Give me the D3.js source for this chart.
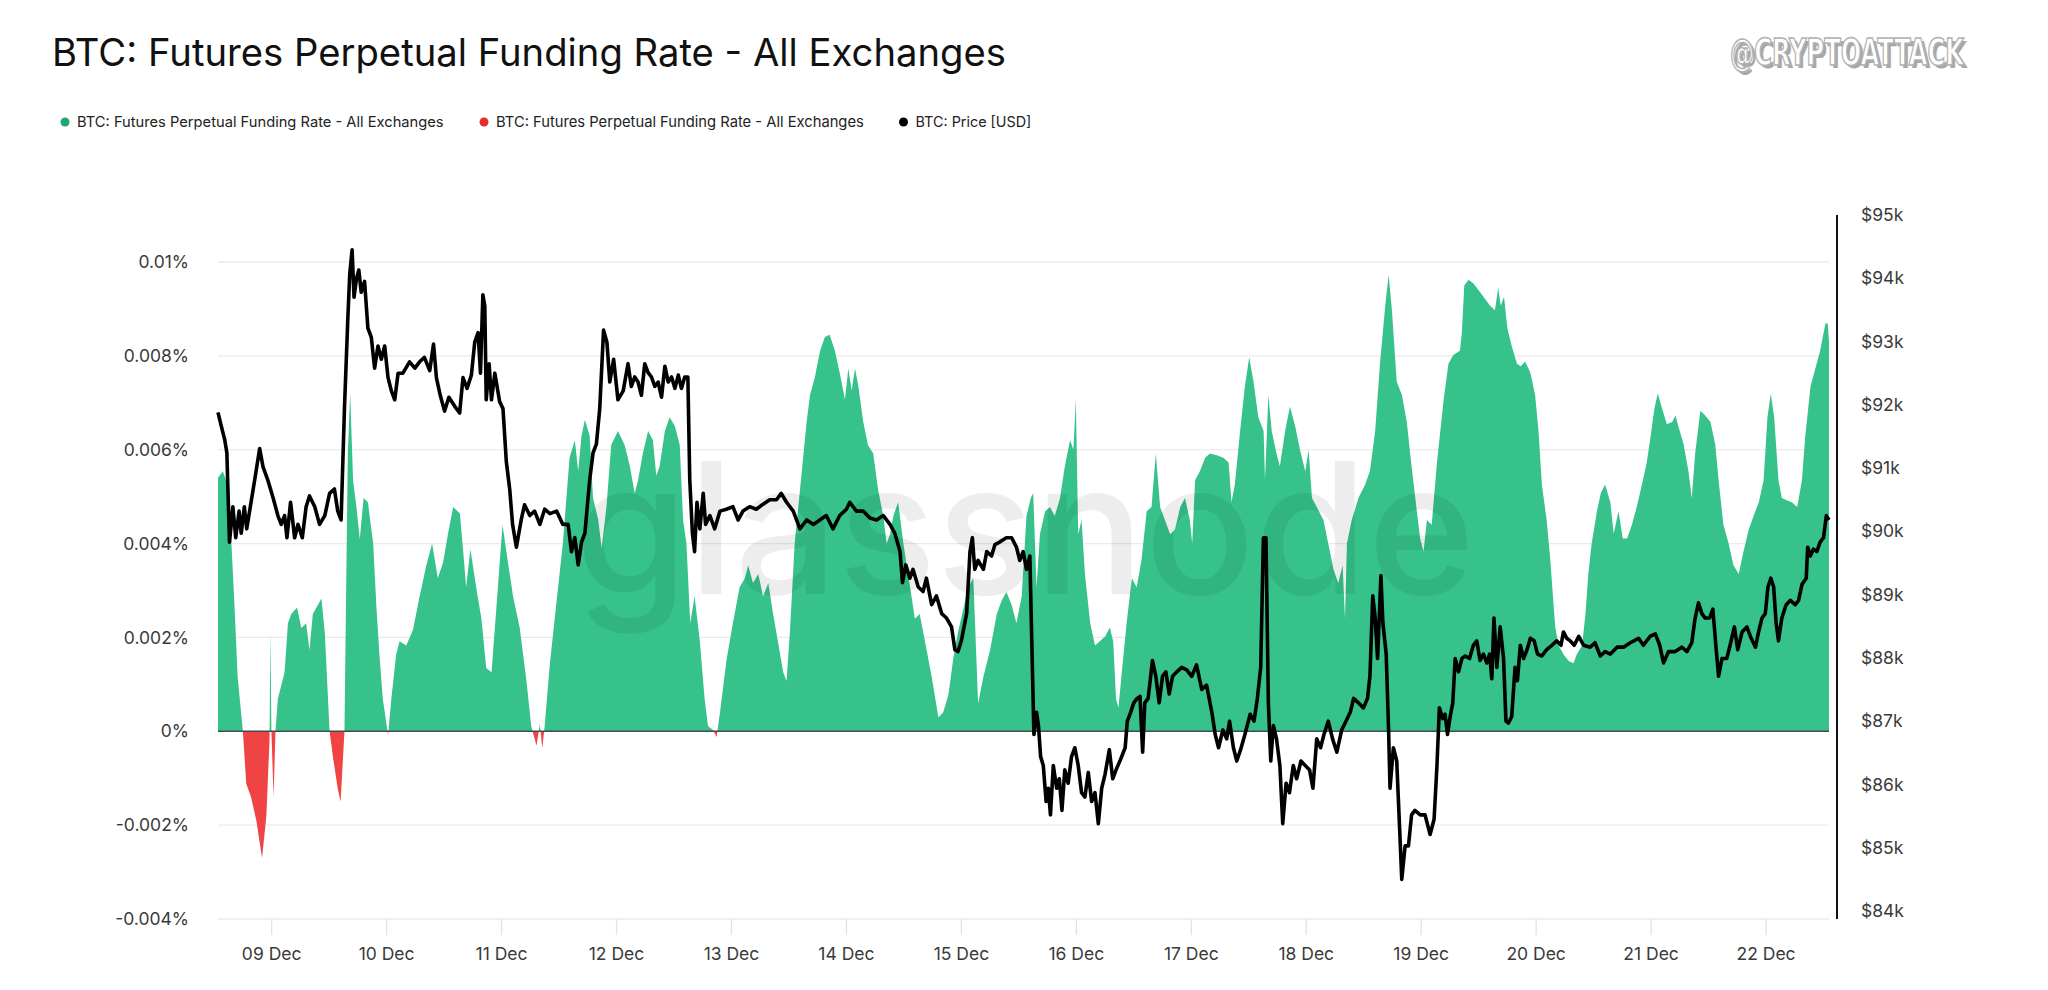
<!DOCTYPE html>
<html>
<head>
<meta charset="utf-8">
<script src="https://cdnjs.cloudflare.com/ajax/libs/d3/7.8.5/d3.min.js"></script>
<style>
    body { margin: 0; background: #fff; }
    svg { display: block; font-family: Inter, "Noto Sans", sans-serif; }
</style>
</head>
<body>
<svg id="chart" width="2048" height="990"></svg>
<script>
/*
*   Funding rate (green/red area, left axis) and BTC price (black line, right axis).
*   Times are hours from 09 Dec 2025 00:00 UTC.
*/
var fundingHours = [-11.1, -10.1, -9.4, -8.3, -7.7, -7.0, -5.9, -5.2, -4.2, -3.1, -1.9, -1.0, -0.35, -0.15, 0.05, 0.5, 0.9, 1.4, 2.1, 2.8,
    3.5, 4.2, 5.4, 6.3, 7.3, 8.0, 8.7, 10.5, 11.2, 12.2, 12.9, 13.9, 14.5, 15.3, 16.0, 16.5, 17.1, 17.8, 18.5, 19.3,
    20.2, 21.3, 22.0, 22.6, 23.3, 24.4, 25.1, 26.1, 26.8, 28.2, 29.6, 31.0, 32.4, 33.6, 34.8, 35.9, 36.9, 38.0, 39.4, 40.1,
    40.7, 41.6, 42.8, 43.9, 44.9, 46.0, 47.0, 48.3, 49.1, 50.5, 51.9, 53.3, 54.3, 55.4, 56.1, 56.6, 57.1, 58.2, 59.6, 60.9,
    62.3, 63.4, 64.1, 64.8, 65.5, 66.5, 67.2, 68.3, 69.0, 70.0, 71.0, 72.4, 73.8, 74.9, 75.9, 76.6, 77.6, 78.7, 79.7, 80.4,
    81.1, 82.2, 83.2, 84.3, 85.3, 86.0, 86.7, 87.5, 88.4, 89.5, 90.5, 91.2, 92.3, 93.0, 93.7, 95.1, 96.4, 97.8, 98.9, 99.6,
    100.6, 101.7, 102.7, 103.8, 104.8, 105.8, 106.9, 107.6, 108.3, 109.3, 110.7, 111.8, 112.5, 113.5, 114.6, 115.6, 116.6, 117.7, 118.7, 119.8,
    120.5, 121.2, 121.9, 122.6, 123.6, 124.6, 125.7, 126.7, 127.8, 128.5, 129.2, 129.9, 130.9, 132.0, 133.4, 134.4, 135.4, 136.5, 137.9, 139.3,
    140.3, 141.4, 142.4, 143.4, 144.5, 145.5, 146.6, 147.6, 148.7, 150.1, 151.5, 152.5, 153.5, 154.6, 155.6, 156.7, 157.7, 158.6, 159.1, 159.8,
    160.5, 161.6, 162.6, 163.6, 164.7, 165.7, 166.8, 167.5, 168.0, 168.5, 169.2, 169.9, 171.0, 172.0, 173.0, 174.1, 175.1, 175.8, 176.4, 176.9,
    177.6, 178.6, 179.7, 180.7, 181.7, 182.8, 183.8, 184.7, 185.6, 186.6, 187.7, 188.7, 189.8, 190.8, 191.8, 192.3, 192.9, 193.9, 195.0, 196.0,
    197.4, 198.8, 199.9, 200.5, 201.2, 202.3, 203.3, 204.2, 205.1, 206.1, 207.2, 207.5, 208.2, 208.9, 209.9, 210.6, 211.7, 212.7, 213.8, 214.8,
    215.9, 216.6, 217.3, 218.3, 219.7, 220.7, 221.8, 222.8, 223.7, 224.2, 224.6, 225.6, 227.0, 228.4, 229.4, 230.5, 231.5, 232.6, 233.3, 234.0,
    235.0, 236.1, 237.1, 238.1, 239.2, 239.9, 240.6, 241.3, 242.3, 243.4, 244.8, 245.8, 246.8, 248.2, 248.6, 249.1, 250.0, 251.0, 252.1, 253.1,
    254.5, 255.5, 256.2, 256.7, 257.4, 258.1, 259.0, 260.1, 260.9, 261.8, 262.9, 263.9, 264.6, 265.3, 266.3, 267.0, 268.1, 268.8, 269.8, 270.9,
    271.9, 272.6, 273.7, 274.4, 275.0, 275.7, 276.8, 277.6, 278.5, 279.6, 280.3, 281.3, 282.2, 283.1, 284.1, 285.1, 286.2, 287.2, 287.9, 288.8,
    289.5, 290.4, 291.4, 292.5, 293.2, 293.8, 294.9, 295.9, 296.6, 297.3, 298.4, 299.4, 300.5, 301.5, 302.2, 303.2, 304.3, 305.3, 306.4, 307.4,
    308.5, 309.5, 310.6, 311.6, 312.4, 313.1, 313.8, 314.7, 315.4, 316.5, 317.5, 318.6, 319.6, 320.3, 321.4, 322.4, 323.4, 324.5, 325.0, 325.25];

// funding rate in %
var fundingRate = [0.0054, 0.00554, 0.00535, 0.004, 0.00278, 0.00116, 0, -0.00112, -0.0014, -0.0019, -0.0027, -0.0018, -0.0002, 0.0021, 0, -0.0014, 0, 0.0007, 0.00097, 0.00126,
    0.0023, 0.0025, 0.00264, 0.0022, 0.0023, 0.00173, 0.0025, 0.00283, 0.0021, 0, -0.00055, -0.00122, -0.0015, 0, 0.0059, 0.0072, 0.00535, 0.00478, 0.0041, 0.00497,
    0.00488, 0.004, 0.0026, 0.00164, 0.0007, -0.00008, 0.0007, 0.00164, 0.00192, 0.00183, 0.00216, 0.00288, 0.00354, 0.004, 0.00326, 0.0036, 0.0042, 0.00478, 0.00464, 0.00383,
    0.00307, 0.00388, 0.00307, 0.0024, 0.00135, 0.00126, 0.0026, 0.0044, 0.00383, 0.00288, 0.0022, 0.00107, 0.00011, -0.00031, 0.00016, -0.00036, 0.00011, 0.00145, 0.00278, 0.004,
    0.00583, 0.0062, 0.00554, 0.0063, 0.00664, 0.0063, 0.00497, 0.0045, 0.0039, 0.00478, 0.0061, 0.0064, 0.0061, 0.00564, 0.00507, 0.00535, 0.00592, 0.0064, 0.0062, 0.00545,
    0.00564, 0.0064, 0.00669, 0.0065, 0.0061, 0.0045, 0.004, 0.0023, 0.00288, 0.00192, 0.00069, 0.00011, 0.00002, -0.00012, 0.0004, 0.00154, 0.0023, 0.00307, 0.00326, 0.00354,
    0.00316, 0.00335, 0.00288, 0.00316, 0.0025, 0.00192, 0.00126, 0.00107, 0.00211, 0.004, 0.00545, 0.0066, 0.00716, 0.00754, 0.00811, 0.0084, 0.00845, 0.00811, 0.00764, 0.00707,
    0.00773, 0.00726, 0.00773, 0.00735, 0.0066, 0.0061, 0.00592, 0.00516, 0.00459, 0.004, 0.0042, 0.00459, 0.00488, 0.004, 0.00307, 0.0024, 0.0025, 0.00192, 0.00116, 0.0003,
    0.0004, 0.00078, 0.00154, 0.00211, 0.0026, 0.00307, 0.00326, 0.00059, 0.00116, 0.00173, 0.0025, 0.00278, 0.00297, 0.00269, 0.0023, 0.00288, 0.00459, 0.00497, 0.00507, 0.00307,
    0.0042, 0.00469, 0.00478, 0.00459, 0.00497, 0.00564, 0.0062, 0.006, 0.00707, 0.0042, 0.0045, 0.00335, 0.0023, 0.00183, 0.00192, 0.00202, 0.00221, 0.00192, 0.00069, 0.0005,
    0.00126, 0.0023, 0.00326, 0.00307, 0.00364, 0.00469, 0.00478, 0.00592, 0.00478, 0.0045, 0.0042, 0.0043, 0.00478, 0.00497, 0.0045, 0.004, 0.00535, 0.00554, 0.00583, 0.00592,
    0.00588, 0.00583, 0.00573, 0.00488, 0.00526, 0.0064, 0.00735, 0.00797, 0.00745, 0.00669, 0.0064, 0.00535, 0.00716, 0.0064, 0.00592, 0.00564, 0.0064, 0.00692, 0.0065, 0.006,
    0.00554, 0.006, 0.00497, 0.00478, 0.0045, 0.004, 0.00345, 0.00316, 0.00354, 0.0024, 0.004, 0.0045, 0.00497, 0.00526, 0.00554, 0.0064, 0.00783, 0.00907, 0.00973, 0.00897,
    0.00745, 0.00716, 0.00659, 0.00564, 0.00469, 0.00411, 0.00383, 0.0045, 0.0044, 0.00573, 0.00707, 0.00783, 0.00802, 0.00811, 0.0085, 0.0095, 0.00962, 0.00954, 0.0094, 0.00926,
    0.00907, 0.00897, 0.00945, 0.00907, 0.00926, 0.00859, 0.00821, 0.00783, 0.00778, 0.00788, 0.00764, 0.00716, 0.0064, 0.00526, 0.0045, 0.00373, 0.00221, 0.00183, 0.00164, 0.0015,
    0.00145, 0.00164, 0.00183, 0.0025, 0.00335, 0.004, 0.00469, 0.00507, 0.00526, 0.00488, 0.00421, 0.00469, 0.00411, 0.00411, 0.0044, 0.00478, 0.00526, 0.00573, 0.00621, 0.00688,
    0.0072, 0.00688, 0.00654, 0.00659, 0.00673, 0.0065, 0.00611, 0.00554, 0.00497, 0.00592, 0.00683, 0.00673, 0.00659, 0.00611, 0.00535, 0.0044, 0.004, 0.00354, 0.00335, 0.00383,
    0.0043, 0.00459, 0.00488, 0.00535, 0.00669, 0.0072, 0.00669, 0.00535, 0.00497, 0.00492, 0.00488, 0.00478, 0.00535, 0.0063, 0.00735, 0.00773, 0.00811, 0.00869, 0.00869, 0.0083];

var priceHours = [-11.1, -10.4, -9.7, -9.25, -8.7, -8.0, -7.4, -6.7, -6.25, -5.6, -5.1, -4.2, -3.3, -2.4, -1.7, -0.7, 0.4, 1.4, 2.1, 2.8,
    3.3, 4.05, 4.9, 5.6, 6.5, 7.3, 8.0, 9.1, 10.1, 11.2, 12.2, 13.2, 13.9, 14.6, 15.3, 16.0, 16.4, 16.9, 17.3, 17.8,
    18.3, 18.8, 19.5, 20.2, 20.9, 21.6, 22.3, 23.0, 23.7, 24.4, 25.1, 25.8, 26.5, 27.5, 28.9, 30.0, 31.0, 32.0, 33.1, 33.9,
    34.5, 35.3, 36.2, 37.1, 38.3, 39.35, 40.05, 40.9, 41.8, 42.5, 43.2, 43.7, 44.2, 44.6, 44.9, 45.5, 46.0, 46.7, 47.7, 48.4,
    49.1, 49.8, 50.4, 51.2, 52.2, 52.9, 54.0, 55.0, 56.1, 57.1, 58.2, 59.6, 60.9, 62.0, 62.7, 63.4, 64.1, 64.8, 65.5, 66.5,
    67.2, 67.9, 68.6, 69.4, 70.1, 70.7, 71.5, 72.4, 73.5, 74.5, 75.2, 75.9, 76.6, 77.3, 78.0, 78.7, 79.4, 80.1, 80.8, 81.5,
    82.2, 82.9, 83.6, 84.3, 85.0, 85.65, 86.35, 87.0, 87.4, 87.95, 88.4, 88.9, 89.5, 90.2, 90.7, 91.6, 92.6, 93.7, 95.05, 96.4,
    97.5, 98.5, 99.9, 101.3, 102.7, 104.1, 105.5, 106.5, 107.6, 109.0, 110.4, 111.8, 113.2, 114.55, 115.9, 117.3, 118.7, 120.1, 120.8, 122.2,
    123.6, 125.0, 126.4, 127.8, 129.2, 130.2, 131.3, 131.8, 132.5, 133.35, 134.0, 135.1, 136.1, 136.8, 137.9, 138.9, 140.0, 141.0, 142.05, 142.75,
    143.4, 144.1, 145.2, 145.9, 146.4, 146.9, 147.6, 148.7, 149.4, 150.4, 151.1, 152.1, 153.5, 154.6, 155.6, 156.3, 157.0, 157.7, 158.4, 159.25,
    159.8, 160.2, 160.65, 161.2, 161.8, 162.25, 162.7, 163.3, 164.0, 164.55, 165.1, 165.7, 166.4, 167.1, 167.8, 168.5, 169.2, 169.9, 170.6, 171.3,
    172.0, 172.7, 173.4, 174.1, 175.0, 175.7, 176.4, 177.2, 178.3, 178.75, 179.45, 180.1, 180.8, 181.4, 181.95, 182.4, 183.1, 184.0, 184.7, 185.4,
    186.1, 186.8, 187.5, 188.2, 189.1, 190.1, 191.15, 192.2, 193.2, 194.3, 195.3, 196.4, 197.1, 197.8, 198.7, 199.5, 200.1, 200.9, 201.6, 202.4,
    203.3, 204.4, 205.2, 205.9, 206.6, 207.16, 207.7, 208.2, 208.7, 209.25, 209.9, 210.6, 211.2, 211.9, 212.6, 213.4, 214.1, 215.0, 215.9, 216.8,
    217.5, 218.3, 219.1, 219.8, 220.7, 221.6, 222.5, 223.5, 224.4, 225.3, 226.0, 227.0, 228.05, 228.9, 229.4, 230.0, 230.5, 231.0, 231.7, 232.1,
    232.8, 233.3, 233.6, 234.3, 235.0, 235.6, 236.05, 236.75, 237.45, 238.1, 238.8, 239.9, 240.9, 241.97, 242.8, 243.4, 243.9, 244.6, 245.1, 245.6,
    246.15, 246.7, 247.2, 247.9, 248.6, 249.3, 250.2, 251.0, 251.7, 252.4, 253.1, 253.8, 254.4, 254.85, 255.3, 255.9, 256.6, 257.3, 257.8, 258.3,
    259.0, 259.7, 260.2, 260.8, 261.5, 262.2, 262.9, 263.7, 264.4, 265.3, 266.3, 267.4, 268.4, 269.3, 269.8, 270.5, 271.2, 272.05, 273.0, 274.0,
    275.4, 276.4, 277.5, 278.5, 279.6, 281.0, 282.35, 283.75, 285.5, 286.5, 287.9, 289.0, 289.9, 290.7, 291.75, 293.15, 294.5, 295.6, 296.6, 297.3,
    298.0, 298.7, 299.4, 300.3, 301.0, 301.7, 302.2, 302.9, 303.9, 304.6, 305.5, 306.2, 307.1, 308.1, 309.0, 309.9, 310.55, 311.25, 311.95, 312.5,
    313.1, 313.7, 314.2, 314.7, 315.4, 316.3, 317.2, 318.2, 318.9, 319.6, 320.5, 320.8, 321.35, 322.0, 322.7, 323.4, 324.1, 324.7, 325.25];

var priceUsd = [91880, 91660, 91450, 91240, 89830, 90390, 89900, 90320, 89970, 90390, 90040, 90460, 90880, 91310, 91020, 90810, 90530, 90250, 90110, 90250,
    89900, 90460, 89900, 90110, 89900, 90390, 90560, 90390, 90110, 90250, 90600, 90670, 90320, 90180, 91940, 93350, 94060, 94450, 93700, 93990,
    94130, 93780, 93950, 93210, 93070, 92580, 92930, 92720, 92930, 92430, 92220, 92080, 92500, 92500, 92680, 92580, 92680, 92750, 92540, 92960,
    92430, 92150, 91900, 92120, 91980, 91870, 92430, 92260, 92470, 92990, 93140, 92500, 93740, 93560, 92080, 92650, 92080, 92500, 92050, 91940,
    91100, 90670, 90110, 89750, 90180, 90420, 90250, 90320, 90110, 90350, 90280, 90320, 90110, 90110, 89680, 89900, 89470, 89830, 89970, 90810,
    91240, 91380, 91940, 93180, 92990, 92360, 92720, 92080, 92220, 92650, 92290, 92440, 92360, 92150, 92650, 92510, 92440, 92290, 92360, 92120,
    92610, 92360, 92440, 92260, 92470, 92260, 92440, 92440, 90810, 89970, 89680, 90460, 90040, 90600, 90110, 90250, 90040, 90320, 90350, 90390,
    90180, 90320, 90390, 90350, 90430, 90500, 90500, 90600, 90460, 90320, 90040, 90180, 90110, 90180, 90250, 90040, 90250, 90350, 90460, 90320,
    90320, 90210, 90180, 90250, 90110, 89970, 89680, 89190, 89470, 89260, 89400, 89120, 89050, 89260, 88840, 88980, 88700, 88630, 88490, 88130,
    88100, 88270, 88700, 89680, 89900, 89400, 89540, 89400, 89680, 89610, 89790, 89830, 89900, 89900, 89750, 89540, 89680, 89400, 89610, 86790,
    87140, 86930, 86440, 86300, 85730, 85940, 85520, 86300, 85940, 86090, 85590, 86230, 86020, 86440, 86580, 86300, 85870, 85800, 86190, 85730,
    85870, 85380, 85940, 86160, 86550, 86090, 86230, 86370, 86580, 87000, 87140, 87290, 87360, 87390, 86510, 87290, 87360, 87960, 87710, 87290,
    87710, 87780, 87430, 87710, 87780, 87850, 87810, 87710, 87890, 87500, 87570, 87140, 86790, 86580, 86860, 86720, 87000, 86580, 86370, 86550,
    86790, 87110, 87000, 87360, 87850, 89900, 89900, 87290, 86370, 86930, 86720, 86300, 85380, 86020, 85870, 86300, 86090, 86370, 86300, 86230,
    85940, 86720, 86580, 86790, 87000, 86720, 86510, 86860, 87000, 87140, 87360, 87290, 87210, 87360, 87710, 88980, 88630, 87990, 89300, 88560,
    88060, 86860, 85940, 86580, 86370, 85310, 84500, 85030, 85030, 85520, 85590, 85520, 85520, 85210, 85450, 86300, 87210, 87040, 87110, 86790,
    87070, 87290, 87990, 87780, 87990, 88030, 87990, 88200, 88270, 87960, 88060, 87920, 88060, 87670, 88630, 87850, 88490, 87990, 87000, 86970,
    87070, 87850, 87640, 88200, 87990, 88130, 88310, 88270, 88060, 88030, 88130, 88200, 88270, 88200, 88410, 88310, 88270, 88200, 88340, 88200,
    88170, 88240, 88030, 88100, 88060, 88170, 88170, 88240, 88310, 88200, 88340, 88380, 88200, 87920, 88100, 88100, 88170, 88100, 88240, 88630,
    88870, 88700, 88630, 88630, 88770, 88130, 87710, 87990, 87990, 88200, 88490, 88130, 88410, 88490, 88310, 88170, 88410, 88630, 88700, 89120,
    89260, 89120, 88560, 88270, 88630, 88840, 88910, 88840, 88910, 89160, 89260, 89750, 89610, 89720, 89680, 89830, 89900, 90250, 90180];

var rateTicks = [0.01, 0.008, 0.006, 0.004, 0.002, 0, -0.002, -0.004];
var rateTickLabels = ["0.01%", "0.008%", "0.006%", "0.004%", "0.002%", "0%", "-0.002%", "-0.004%"];
var priceTicks = [95000, 94000, 93000, 92000, 91000, 90000, 89000, 88000, 87000, 86000, 85000, 84000];
var priceTickLabels = ["$95k", "$94k", "$93k", "$92k", "$91k", "$90k", "$89k", "$88k", "$87k", "$86k", "$85k", "$84k"];
var legendLabels = ["BTC: Futures Perpetual Funding Rate - All Exchanges", "BTC: Futures Perpetual Funding Rate - All Exchanges", "BTC: Price [USD]"];
var legendColors = ["#1fa774", "#e52d2d", "#000"];

var startMs = Date.UTC(2025, 11, 9);
function toDate(h) {
    return new Date(startMs + h * 3600000);
}

// Shrink or grow a text so it spans a given width
function fitText(sel, width) {
    var w = sel.node().getComputedTextLength();
    var fs = parseFloat(sel.attr("font-size"));
    sel.attr("font-size", (fs * width / w).toFixed(2));
}

var funding = fundingHours.map(function (h, i) { return { date: toDate(h), rate: fundingRate[i] }; });
var price = priceHours.map(function (h, i) { return { date: toDate(h), usd: priceUsd[i] }; });

var left = 218, right = 1829;
var svg = d3.select("#chart");

var x = d3.scaleUtc()
    .domain([toDate(fundingHours[0]), toDate(fundingHours[fundingHours.length - 1])])
    .range([left, right]);
var yRate = d3.scaleLinear().domain([-0.004, 0.01]).range([919, 262]);
var yPrice = d3.scaleLinear().domain([84000, 95000]).range([911, 215]);

// Title
var title = svg.append("text")
    .attr("x", 52).attr("y", 66)
    .attr("font-size", 37).attr("fill", "#111")
    .text("BTC: Futures Perpetual Funding Rate - All Exchanges");
fitText(title, 954);

// Author watermark (top right): fitted narrow text, stretched vertically
var markFont = "'Liberation Sans Narrow', 'DejaVu Sans Condensed', sans-serif";
var mark = svg.append("g").attr("transform", "translate(1730,65) scale(1,1.4)");
var markShadow = mark.append("text")
    .attr("x", 3).attr("y", 2)
    .attr("font-family", markFont).attr("font-weight", "bold").attr("font-size", 34)
    .attr("fill", "#a8a8a8")
    .text("@CRYPTOATTACK");
fitText(markShadow, 234);
var markText = mark.append("text")
    .attr("x", 0).attr("y", 0)
    .attr("font-family", markFont).attr("font-weight", "bold").attr("font-size", 34)
    .attr("fill", "#fff").attr("stroke", "#b0b0b0").attr("stroke-width", 1.1)
    .text("@CRYPTOATTACK");
fitText(markText, 234);

// Legend
var legendX = [65, 484, 903.5];
var legendW = [367, 368, 116];
legendLabels.forEach(function (label, i) {
    svg.append("circle")
        .attr("cx", legendX[i]).attr("cy", 122).attr("r", 4.5)
        .attr("fill", legendColors[i]);
    var t = svg.append("text")
        .attr("x", legendX[i] + 12).attr("y", 127)
        .attr("font-size", 14.5).attr("fill", "#222")
        .text(label);
    fitText(t, legendW[i]);
});

// Horizontal grid
svg.append("g").selectAll("line").data(rateTicks).enter().append("line")
    .attr("x1", left).attr("x2", right)
    .attr("y1", function (d) { return yRate(d); })
    .attr("y2", function (d) { return yRate(d); })
    .attr("stroke", "#ebebeb").attr("stroke-width", 1.3);

// Bottom axis: day ticks
var xAxis = d3.axisBottom(x)
    .ticks(d3.utcDay.every(1))
    .tickSize(16).tickPadding(13)
    .tickFormat(d3.utcFormat("%d %b"));
var gx = svg.append("g").attr("transform", "translate(0,919)").call(xAxis);
gx.select(".domain").remove();
gx.selectAll(".tick line").attr("stroke", "#e3e3e3").attr("stroke-width", 1.3);
gx.selectAll(".tick text").attr("font-size", 17.5).attr("fill", "#3a3a3a").attr("font-family", "Inter, sans-serif");

// Left axis
var yAxisLeft = d3.axisLeft(yRate)
    .tickValues(rateTicks).tickSize(0).tickPadding(29)
    .tickFormat(function (d, i) { return rateTickLabels[i]; });
var gl = svg.append("g").attr("transform", "translate(" + left + ",0)").call(yAxisLeft);
gl.select(".domain").remove();
gl.selectAll(".tick text").attr("font-size", 17.5).attr("fill", "#3a3a3a").attr("font-family", "Inter, sans-serif");

// Right axis
var yAxisRight = d3.axisRight(yPrice)
    .tickValues(priceTicks).tickSize(0).tickPadding(24)
    .tickFormat(function (d, i) { return priceTickLabels[i]; });
var gr = svg.append("g").attr("transform", "translate(1837,0)").call(yAxisRight);
gr.select(".domain").remove();
gr.selectAll(".tick text").attr("font-size", 17.5).attr("fill", "#3a3a3a").attr("font-family", "Inter, sans-serif");
svg.append("line")
    .attr("x1", 1837).attr("x2", 1837)
    .attr("y1", yPrice(95000)).attr("y2", yRate(-0.004))
    .attr("stroke", "#111").attr("stroke-width", 2);

// Funding rate area, split at zero with two clips
var defs = svg.append("defs");
defs.append("clipPath").attr("id", "clipPos").append("rect")
    .attr("x", left).attr("width", right - left)
    .attr("y", 0).attr("height", yRate(0));
defs.append("clipPath").attr("id", "clipNeg").append("rect")
    .attr("x", left).attr("width", right - left)
    .attr("y", yRate(0)).attr("height", 990 - yRate(0));

var area = d3.area()
    .x(function (d) { return x(d.date); })
    .y0(yRate(0))
    .y1(function (d) { return yRate(d.rate); });

svg.append("path").datum(funding)
    .attr("d", area).attr("fill", "#36c28a")
    .attr("clip-path", "url(#clipPos)");
svg.append("path").datum(funding)
    .attr("d", area).attr("fill", "#f04343")
    .attr("clip-path", "url(#clipNeg)");

svg.append("line")
    .attr("x1", left).attr("x2", right)
    .attr("y1", yRate(0)).attr("y2", yRate(0))
    .attr("stroke", "#4a4a4a").attr("stroke-width", 1.5);

// glassnode watermark
var wm = svg.append("text")
    .attr("x", 575).attr("y", 594)
    .attr("font-size", 175).attr("font-weight", 500)
    .attr("fill", "#000").attr("fill-opacity", 0.07)
    .text("glassnode");
fitText(wm, 900);

// Price line
var line = d3.line()
    .x(function (d) { return x(d.date); })
    .y(function (d) { return yPrice(d.usd); });

svg.append("path").datum(price)
    .attr("d", line)
    .attr("fill", "none").attr("stroke", "#000")
    .attr("stroke-width", 3.6).attr("stroke-linejoin", "round");
</script>
</body>
</html>
